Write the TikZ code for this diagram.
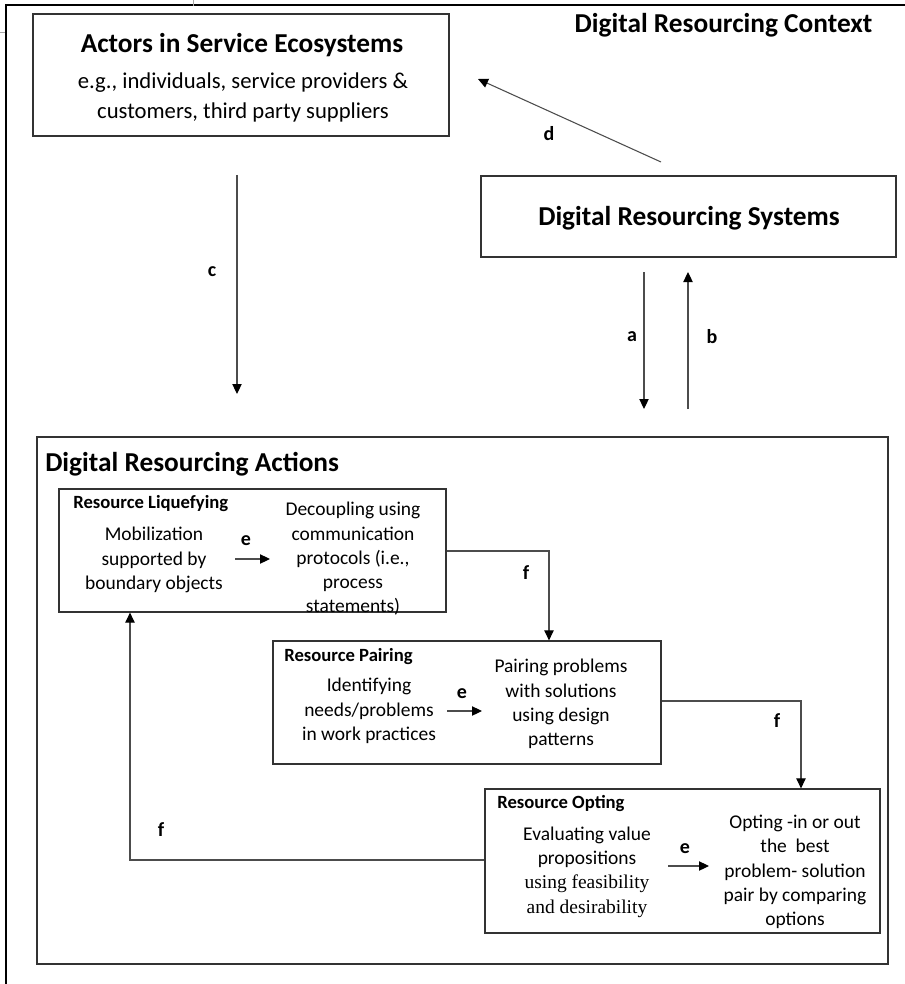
\documentclass[tikz,border=0pt]{standalone}
\usepackage{fontspec}
\setmainfont{Carlito}
\newfontfamily\serifpart{Liberation Serif}
\usetikzlibrary{arrows.meta,fit}

\begin{document}
\begin{tikzpicture}[x=0.75pt,y=-0.75pt,
  frame/.style={draw=black!80, line width=0.9pt, inner sep=0pt},
  conn/.style={draw=black!70, line width=0.8pt},
  arr/.style={conn, -{Triangle[length=7.5pt,width=7pt,black]}},
  bigtitle/.style={font=\fontsize{20.5}{24}\selectfont\bfseries, inner sep=0pt},
  boxtitle/.style={font=\fontsize{14}{17}\selectfont\bfseries, inner sep=0pt, anchor=west},
  bodybig/.style={font=\fontsize{17}{22.5}\selectfont, align=center, inner sep=0pt},
  body/.style={font=\fontsize{14.6}{18.2}\selectfont, align=center, inner sep=0pt},
  lbl/.style={font=\fontsize{15}{17}\selectfont\bfseries, inner sep=0pt}
]
\useasboundingbox (0,0) rectangle (905,984);

% page frame and stray marks
\coordinate (pgtr) at (905,5);
\coordinate (pgtl) at (6,5);
\coordinate (pgbl) at (6,984);
\draw[black, line width=1pt] (pgtr) -- (pgtl) -- (pgbl);
\coordinate (tka) at (0,32);
\coordinate (tkb) at (5,32);
\coordinate (tkc) at (193,0);
\coordinate (tkd) at (193,6);
\draw[black!35, line width=0.5pt] (tka) -- (tkb) (tkc) -- (tkd);

\node[bigtitle] (ctxtitle) at (723.5,25) {Digital Resourcing Context};

% actors
\node[frame, fit={(33,14)(449,136)}] (actors) {};
\node[bigtitle] (actorstitle) at (242,45) {Actors in Service Ecosystems};
\node[bodybig] (actorstext) at (243,97) {e.g., individuals, service providers \&\\customers, third party suppliers};

% systems
\node[frame, fit={(481,176)(896,257)}] (drs) {};
\node[bigtitle] (drstitle) at (689,218) {Digital Resourcing Systems};

% actions
\node[frame, fit={(37,437)(888,964)}] (actions) {};
\node[bigtitle, anchor=west] (actionstitle) at (45,464) {Digital Resourcing Actions};

% liquefying
\node[frame, fit={(59,489)(446,612)}] (liq) {};
\node[boxtitle] (liqtitle) at (73,504) {Resource Liquefying};
\node[body] (liqa) at (154,560) {Mobilization\\supported by\\boundary objects};
\node[body] (liqb) at (353,559) {Decoupling using\\communication\\protocols (i.e.,\\process\\statements)};
\coordinate (liqe1) at (235,559);
\coordinate (liqe2) at (270,559);
\draw[arr] (liqe1) -- (liqe2);
\node[lbl] (liqel) at (246,541) {e};

% pairing
\node[frame, fit={(273,641)(661,764)}] (pair) {};
\node[boxtitle] (pairtitle) at (284,657) {Resource Pairing};
\node[body] (paira) at (369,711) {Identifying\\needs/problems\\in work practices};
\node[body] (pairb) at (561,704) {Pairing problems\\with solutions\\using design\\patterns};
\coordinate (paire1) at (447,711);
\coordinate (paire2) at (482,711);
\draw[arr] (paire1) -- (paire2);
\node[lbl] (pairel) at (462,694) {e};

% opting
\node[frame, fit={(485,789)(880,933)}] (opt) {};
\node[boxtitle] (opttitle) at (497,804) {Resource Opting};
\node[body] (opta) at (587,872) {Evaluating value\\propositions\\{\serifpart using feasibility}\\{\serifpart and desirability}};
\node[body] (optb) at (795,872) {Opting -in or out\\the\ \ best\\problem- solution\\pair by comparing\\options};
\coordinate (opte1) at (668,866);
\coordinate (opte2) at (709,866);
\draw[arr] (opte1) -- (opte2);
\node[lbl] (optel) at (685,849) {e};

% arrows between context elements
\coordinate (cs) at (237,175);
\coordinate (ce) at (237,394);
\draw[arr] (cs) -- (ce);
\node[lbl] (cl) at (212,272) {c};

\coordinate (as) at (644,272);
\coordinate (ae) at (644,409);
\draw[arr] (as) -- (ae);
\node[lbl] (al) at (632,337) {a};

\coordinate (bs) at (688,409);
\coordinate (be) at (688,272);
\draw[arr] (bs) -- (be);
\node[lbl] (bl) at (712,337) {b};

\coordinate (ds) at (661,162);
\coordinate (de) at (478,79);
\draw[arr] (ds) -- (de);
\node[lbl] (dl) at (549,134) {d};

% flow between actions
\coordinate (f1turn) at (549,551);
\draw[arr] (liq.east |- f1turn) -| (pair.north -| f1turn);
\node[lbl] (f1l) at (526,573) {f};

\coordinate (f2turn) at (801,701);
\draw[arr] (pair.east |- f2turn) -| (opt.north -| f2turn);
\node[lbl] (f2l) at (777,721) {f};

\coordinate (f3turn) at (130,860);
\draw[arr] (opt.west |- f3turn) -| (liq.south -| f3turn);
\node[lbl] (f3l) at (161,830) {f};
\end{tikzpicture}
\end{document}
